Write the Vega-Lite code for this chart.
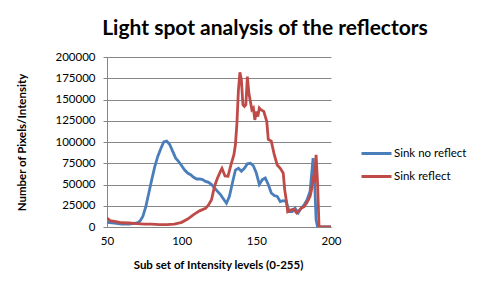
{
  "$schema": "https://vega.github.io/schema/vega-lite/v6.json",
  "width": 224,
  "height": 170,
  "autosize": {"type": "none"},
  "padding": {"left": 107, "top": 57, "right": 152, "bottom": 64},
  "background": "white",
  "title": {
    "text": "Light spot analysis of the reflectors",
    "font": "Lato",
    "fontSize": 21,
    "fontWeight": "bold",
    "color": "black",
    "anchor": "middle",
    "frame": "group",
    "dx": 46,
    "offset": 12
  },
  "config": {
    "view": {"stroke": null},
    "font": "Lato"
  },
  "data": {
    "values": [
      {"x": 50, "series": "Sink no reflect", "y": 5500},
      {"x": 55, "series": "Sink no reflect", "y": 4700},
      {"x": 60, "series": "Sink no reflect", "y": 3500},
      {"x": 65, "series": "Sink no reflect", "y": 3500},
      {"x": 70, "series": "Sink no reflect", "y": 4700},
      {"x": 72, "series": "Sink no reflect", "y": 6700},
      {"x": 74, "series": "Sink no reflect", "y": 12500},
      {"x": 76, "series": "Sink no reflect", "y": 24000},
      {"x": 78, "series": "Sink no reflect", "y": 40000},
      {"x": 80, "series": "Sink no reflect", "y": 56000},
      {"x": 82, "series": "Sink no reflect", "y": 71000},
      {"x": 84, "series": "Sink no reflect", "y": 83000},
      {"x": 86, "series": "Sink no reflect", "y": 92000},
      {"x": 88, "series": "Sink no reflect", "y": 100000},
      {"x": 90, "series": "Sink no reflect", "y": 101000},
      {"x": 92, "series": "Sink no reflect", "y": 97000},
      {"x": 94, "series": "Sink no reflect", "y": 89000},
      {"x": 96, "series": "Sink no reflect", "y": 81000},
      {"x": 98, "series": "Sink no reflect", "y": 77000},
      {"x": 100, "series": "Sink no reflect", "y": 72000},
      {"x": 102, "series": "Sink no reflect", "y": 67000},
      {"x": 104, "series": "Sink no reflect", "y": 63500},
      {"x": 106, "series": "Sink no reflect", "y": 61500},
      {"x": 108, "series": "Sink no reflect", "y": 58500},
      {"x": 110, "series": "Sink no reflect", "y": 56500},
      {"x": 112, "series": "Sink no reflect", "y": 56500},
      {"x": 114, "series": "Sink no reflect", "y": 55700},
      {"x": 116, "series": "Sink no reflect", "y": 53700},
      {"x": 118, "series": "Sink no reflect", "y": 52500},
      {"x": 120, "series": "Sink no reflect", "y": 50000},
      {"x": 122, "series": "Sink no reflect", "y": 46000},
      {"x": 124, "series": "Sink no reflect", "y": 42000},
      {"x": 126, "series": "Sink no reflect", "y": 38000},
      {"x": 128, "series": "Sink no reflect", "y": 33000},
      {"x": 130, "series": "Sink no reflect", "y": 28000},
      {"x": 132, "series": "Sink no reflect", "y": 36000},
      {"x": 134, "series": "Sink no reflect", "y": 52000},
      {"x": 136, "series": "Sink no reflect", "y": 67000},
      {"x": 138, "series": "Sink no reflect", "y": 69000},
      {"x": 140, "series": "Sink no reflect", "y": 65500},
      {"x": 142, "series": "Sink no reflect", "y": 69000},
      {"x": 144, "series": "Sink no reflect", "y": 74500},
      {"x": 146, "series": "Sink no reflect", "y": 75000},
      {"x": 148, "series": "Sink no reflect", "y": 72000},
      {"x": 150, "series": "Sink no reflect", "y": 63500},
      {"x": 152, "series": "Sink no reflect", "y": 50000},
      {"x": 154, "series": "Sink no reflect", "y": 55700},
      {"x": 156, "series": "Sink no reflect", "y": 57600},
      {"x": 158, "series": "Sink no reflect", "y": 50000},
      {"x": 160, "series": "Sink no reflect", "y": 40000},
      {"x": 162, "series": "Sink no reflect", "y": 37000},
      {"x": 164, "series": "Sink no reflect", "y": 36000},
      {"x": 166, "series": "Sink no reflect", "y": 30000},
      {"x": 168, "series": "Sink no reflect", "y": 31000},
      {"x": 170, "series": "Sink no reflect", "y": 30000},
      {"x": 172, "series": "Sink no reflect", "y": 18000},
      {"x": 174, "series": "Sink no reflect", "y": 18000},
      {"x": 176, "series": "Sink no reflect", "y": 22000},
      {"x": 178, "series": "Sink no reflect", "y": 16500},
      {"x": 180, "series": "Sink no reflect", "y": 22000},
      {"x": 182, "series": "Sink no reflect", "y": 26000},
      {"x": 184, "series": "Sink no reflect", "y": 32000},
      {"x": 186, "series": "Sink no reflect", "y": 42000},
      {"x": 188, "series": "Sink no reflect", "y": 81000},
      {"x": 189, "series": "Sink no reflect", "y": 56000},
      {"x": 190, "series": "Sink no reflect", "y": 8600},
      {"x": 191, "series": "Sink no reflect", "y": 0},
      {"x": 195, "series": "Sink no reflect", "y": 0},
      {"x": 200, "series": "Sink no reflect", "y": 0},
      {"x": 50, "series": "Sink reflect", "y": 10600},
      {"x": 52, "series": "Sink reflect", "y": 7500},
      {"x": 55, "series": "Sink reflect", "y": 6700},
      {"x": 60, "series": "Sink reflect", "y": 5000},
      {"x": 65, "series": "Sink reflect", "y": 4700},
      {"x": 70, "series": "Sink reflect", "y": 4000},
      {"x": 75, "series": "Sink reflect", "y": 3500},
      {"x": 80, "series": "Sink reflect", "y": 3500},
      {"x": 85, "series": "Sink reflect", "y": 2700},
      {"x": 90, "series": "Sink reflect", "y": 2700},
      {"x": 95, "series": "Sink reflect", "y": 3500},
      {"x": 100, "series": "Sink reflect", "y": 5500},
      {"x": 104, "series": "Sink reflect", "y": 9400},
      {"x": 108, "series": "Sink reflect", "y": 14500},
      {"x": 112, "series": "Sink reflect", "y": 19000},
      {"x": 116, "series": "Sink reflect", "y": 22000},
      {"x": 118, "series": "Sink reflect", "y": 26000},
      {"x": 120, "series": "Sink reflect", "y": 32000},
      {"x": 122, "series": "Sink reflect", "y": 48000},
      {"x": 124, "series": "Sink reflect", "y": 57600},
      {"x": 126, "series": "Sink reflect", "y": 65500},
      {"x": 127, "series": "Sink reflect", "y": 69000},
      {"x": 129, "series": "Sink reflect", "y": 60000},
      {"x": 131, "series": "Sink reflect", "y": 59600},
      {"x": 133, "series": "Sink reflect", "y": 73000},
      {"x": 135, "series": "Sink reflect", "y": 85000},
      {"x": 136, "series": "Sink reflect", "y": 97000},
      {"x": 137, "series": "Sink reflect", "y": 122000},
      {"x": 138, "series": "Sink reflect", "y": 161000},
      {"x": 139, "series": "Sink reflect", "y": 182000},
      {"x": 140, "series": "Sink reflect", "y": 173000},
      {"x": 141, "series": "Sink reflect", "y": 144000},
      {"x": 142, "series": "Sink reflect", "y": 142000},
      {"x": 143, "series": "Sink reflect", "y": 144000},
      {"x": 144, "series": "Sink reflect", "y": 177000},
      {"x": 145, "series": "Sink reflect", "y": 157600},
      {"x": 146, "series": "Sink reflect", "y": 148000},
      {"x": 147, "series": "Sink reflect", "y": 138000},
      {"x": 148, "series": "Sink reflect", "y": 140000},
      {"x": 149, "series": "Sink reflect", "y": 126000},
      {"x": 150, "series": "Sink reflect", "y": 136000},
      {"x": 151, "series": "Sink reflect", "y": 130000},
      {"x": 152, "series": "Sink reflect", "y": 140000},
      {"x": 153, "series": "Sink reflect", "y": 138000},
      {"x": 155, "series": "Sink reflect", "y": 136000},
      {"x": 157, "series": "Sink reflect", "y": 124000},
      {"x": 158, "series": "Sink reflect", "y": 103000},
      {"x": 160, "series": "Sink reflect", "y": 101000},
      {"x": 162, "series": "Sink reflect", "y": 85000},
      {"x": 164, "series": "Sink reflect", "y": 73000},
      {"x": 166, "series": "Sink reflect", "y": 69000},
      {"x": 168, "series": "Sink reflect", "y": 63500},
      {"x": 169, "series": "Sink reflect", "y": 44000},
      {"x": 170, "series": "Sink reflect", "y": 32000},
      {"x": 171, "series": "Sink reflect", "y": 18000},
      {"x": 173, "series": "Sink reflect", "y": 20000},
      {"x": 175, "series": "Sink reflect", "y": 21000},
      {"x": 177, "series": "Sink reflect", "y": 16500},
      {"x": 180, "series": "Sink reflect", "y": 22000},
      {"x": 182, "series": "Sink reflect", "y": 24000},
      {"x": 184, "series": "Sink reflect", "y": 29000},
      {"x": 186, "series": "Sink reflect", "y": 36000},
      {"x": 187, "series": "Sink reflect", "y": 44000},
      {"x": 188, "series": "Sink reflect", "y": 56000},
      {"x": 189, "series": "Sink reflect", "y": 52000},
      {"x": 190, "series": "Sink reflect", "y": 85000},
      {"x": 191, "series": "Sink reflect", "y": 52000},
      {"x": 192, "series": "Sink reflect", "y": 0},
      {"x": 196, "series": "Sink reflect", "y": 0},
      {"x": 200, "series": "Sink reflect", "y": 0}
    ]
  },
  "mark": {"type": "line", "strokeWidth": 2.8, "clip": true},
  "encoding": {
    "x": {
      "field": "x",
      "type": "quantitative",
      "scale": {"domain": [50, 200], "nice": false},
      "axis": {
        "values": [50, 100, 150, 200],
        "title": "Sub set of Intensity levels (0-255)",
        "titleFont": "Lato",
        "titleFontSize": 11.5,
        "titleFontWeight": "bold",
        "titleColor": "black",
        "titleX": 111,
        "titleY": 38,
        "titleBaseline": "middle",
        "labelFont": "Lato",
        "labelFontSize": 11.5,
        "labelColor": "black",
        "labelPadding": 8,
        "labelFlush": false,
        "labelOverlap": false,
        "grid": false,
        "ticks": false,
        "domainColor": "#868686",
        "domainWidth": 1
      }
    },
    "y": {
      "field": "y",
      "type": "quantitative",
      "scale": {"domain": [0, 200000], "nice": false},
      "axis": {
        "values": [0, 25000, 50000, 75000, 100000, 125000, 150000, 175000, 200000],
        "format": "d",
        "title": "Number of Pixels/Intensity",
        "titleFont": "Lato",
        "titleFontSize": 11.5,
        "titleFontWeight": "bold",
        "titleColor": "black",
        "titleAngle": -90,
        "titleX": -85,
        "titleY": 85,
        "titleBaseline": "middle",
        "titleAlign": "center",
        "labelFont": "Lato",
        "labelFontSize": 11.5,
        "labelColor": "black",
        "labelPadding": 8,
        "labelFlush": false,
        "grid": true,
        "gridColor": "#868686",
        "gridWidth": 1,
        "ticks": true,
        "tickSize": 4,
        "tickColor": "#868686",
        "domainColor": "#868686",
        "domainWidth": 1
      }
    },
    "color": {
      "field": "series",
      "type": "nominal",
      "scale": {"domain": ["Sink no reflect", "Sink reflect"], "range": ["#4A7EBB", "#BE4B48"]},
      "legend": {
        "title": null,
        "orient": "none",
        "legendX": 253,
        "legendY": 80,
        "symbolType": "stroke",
        "symbolSize": 900,
        "symbolStrokeWidth": 3,
        "rowPadding": -6,
        "labelOffset": 1,
        "labelFont": "Lato",
        "labelFontSize": 11.5,
        "labelColor": "black"
      }
    }
  }
}
